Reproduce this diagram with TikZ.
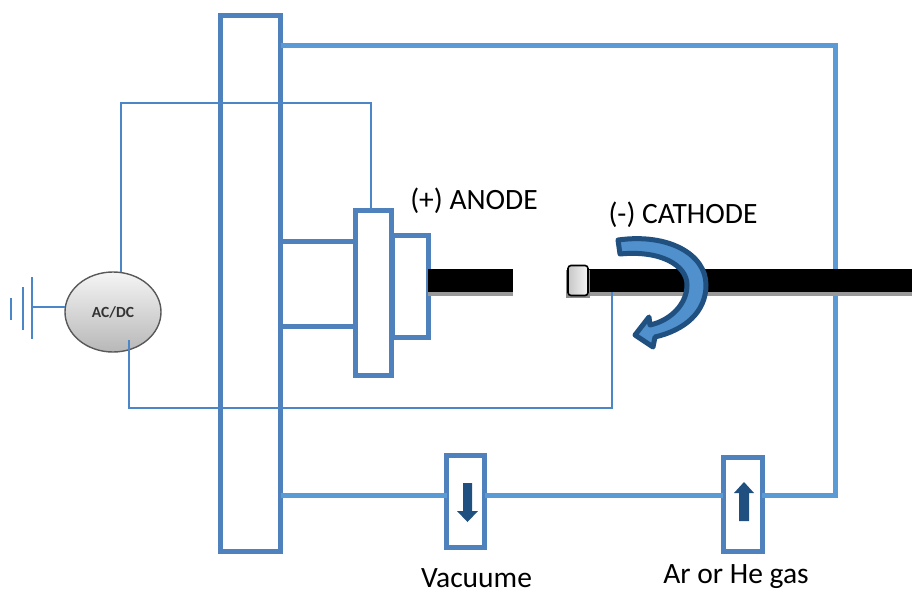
\documentclass[tikz,border=0pt]{standalone}
\usepackage{fontspec}
\setmainfont{Carlito}
\usetikzlibrary{shapes.geometric}
\definecolor{frameblue}{HTML}{5B9BD5}
\definecolor{boxblue}{HTML}{4F81BD}
\definecolor{wireblue}{HTML}{4A86C8}
\definecolor{navy}{HTML}{1F5080}
\definecolor{arrowfill}{HTML}{4F90CD}
\tikzset{
  boxpart/.style={draw=boxblue,line width=5pt,fill=white,inner sep=0pt,outer sep=0pt},
  pipe/.style={draw=frameblue,line width=5pt},
  wire/.style={draw=wireblue,line width=1.8pt},
  rod/.style={fill=black,inner sep=0pt,outer sep=0pt},
  rodshadow/.style={fill=black!40,inner sep=0pt,outer sep=0pt},
  label/.style={font=\fontsize{29.5}{32}\selectfont,inner sep=0pt,anchor=base},
}
\begin{document}
\begin{tikzpicture}[x=1pt,y=-1pt]
\useasboundingbox (0,0) rectangle (912,589);
\clip (0,0) rectangle (912,589);
% coordinates
\coordinate (c1) at (835,45);
\coordinate (c2) at (835,495);
\coordinate (w1a) at (121,103);
\coordinate (w1b) at (371,103);
\coordinate (w2a) at (129,408);
\coordinate (w2b) at (612,408);
\coordinate (g1) at (32,307);
\coordinate (g1t) at (32,277);
\coordinate (g1b) at (32,339);
\coordinate (g2t) at (23,287);
\coordinate (g2b) at (23,330);
\coordinate (g3t) at (11,298);
\coordinate (g3b) at (11,320);
% main plate and parts
\node[boxpart,minimum width=60pt,minimum height=536pt] (plate) at (250.5,283) {};
\node[boxpart,minimum width=36pt,minimum height=102pt] (anodeb) at (410,286) {};
\node[boxpart,minimum width=36pt,minimum height=165pt] (anodea) at (373,292.5) {};
\node[boxpart,minimum width=38pt,minimum height=92pt] (valve1) at (465.5,501.5) {};
\node[boxpart,minimum width=39pt,minimum height=94pt] (valve2) at (742.5,504.5) {};
% pipes
\draw[pipe] (plate.east |- c1) -- (c1) -- (c2) -- (valve2.east |- c2);
\draw[pipe] (valve2.west |- c2) -- (valve1.east |- c2);
\draw[pipe] (valve1.west |- c2) -- (plate.east |- c2);
\draw[pipe,draw=boxblue] (plate.east |- 0,241) -- (anodea.west |- 0,241);
\draw[pipe,draw=boxblue] (plate.east |- 0,326) -- (anodea.west |- 0,326);
% rods
\node[rodshadow,minimum width=85pt,minimum height=27pt] at (470.5,282.5) {};
\node[rodshadow,minimum width=325pt,minimum height=27pt] at (750.5,282.5) {};
\node[rod,minimum width=85pt,minimum height=23pt] (rodA) at (470.5,280.5) {};
\node[rod,minimum width=325pt,minimum height=23pt] (rodC) at (750.5,280.5) {};
% cathode tip
\fill[black!45] (566,270) rectangle (590,298);
\node[draw=black,line width=1.6pt,rounded corners=3pt,left color=black!22,right color=black!4,minimum width=20pt,minimum height=30pt,inner sep=0pt,outer sep=0pt] (tip) at (578,280.5) {};
% wires
\node[draw=black!65,line width=1.4pt,ellipse,inner sep=0pt,outer sep=0pt,minimum width=96pt,minimum height=80pt,top color=black!4,bottom color=black!28,font=\fontsize{15.5}{17}\selectfont\bfseries,text=black!80] (acdc) at (113,312) {AC/DC};
\draw[wire] ([xshift=8pt]acdc.north) -- (w1a) -- (w1b) -- (w1b |- anodea.north);
\draw[wire] (w2a |- 0,340) -- (w2a) -- (w2b) -- (w2b |- rodC.south);
\draw[wire] (acdc.west |- g1) -- (g1);
\draw[wire] (g1t) -- (g1b);
\draw[wire] (g2t) -- (g2b);
\draw[wire] (g3t) -- (g3b);
% curved arrow
\draw[fill=arrowfill,draw=navy,line width=5pt,line join=round]
  (618,240) .. controls (668,233) and (706,254) .. (706,285)
  .. controls (706,312) and (685,330) .. (655,337)
  -- (653,347) -- (635,335) -- (649,317) -- (650,325)
  .. controls (672,320) and (687,303) .. (687,285)
  .. controls (687,265) and (660,250) .. (620,254) -- cycle;
% valve arrows
\fill[navy] (463,483) -- (472,483) -- (472,511) -- (478,511) -- (467.5,522) -- (457,511) -- (463,511) -- cycle;
\fill[navy] (739,521) -- (749,521) -- (749,493) -- (754,493) -- (744,482) -- (734,493) -- (739,493) -- cycle;
% labels
\node[label] (anodelabel) at (474,209) {(+) ANODE};
\node[label] (cathodelabel) at (683,223) {(-) CATHODE};
\node[label] (vaclabel) at (476.5,587) {Vacuume};
\node[label] (gaslabel) at (736,583) {Ar or He gas};
\end{tikzpicture}
\end{document}
